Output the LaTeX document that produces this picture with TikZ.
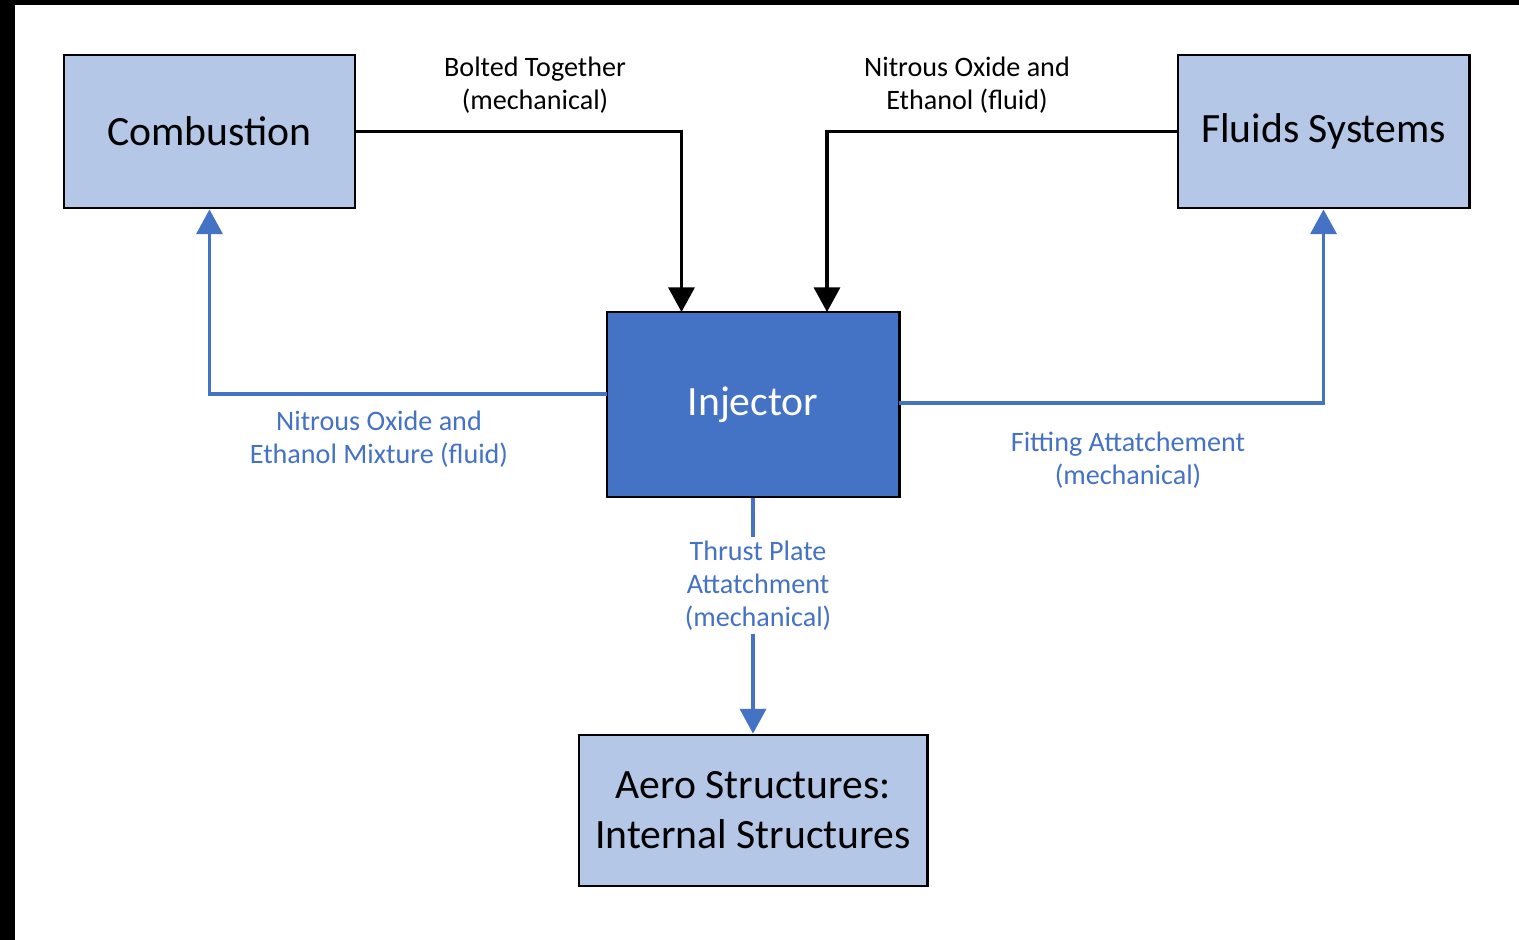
\documentclass[tikz,border=0pt]{standalone}
\usepackage{fontspec}
\setmainfont{Carlito}
\usetikzlibrary{arrows.meta}

\definecolor{paleblue}{HTML}{B4C7E7}
\definecolor{midblue}{HTML}{4472C4}

\tikzset{
	block/.style={draw=black, line width=0.8pt, fill=paleblue, align=center,
		inner sep=0pt, font=\fontsize{11.85}{14.2}\selectfont},
	flowline/.style={line width=0.9pt, -{Triangle[width=7.4pt,length=7pt]}},
	flowtext/.style={align=center, inner sep=1pt, font=\fontsize{8}{9.4}\selectfont}
}

\begin{document}
\begin{tikzpicture}[x=0.01cm,y=-0.01cm]

	%Frame
	\useasboundingbox (0,0) rectangle (1519,940);
	\fill[white] (0,0) rectangle (1519,940);
	\fill[black] (0,0) rectangle (1519,5);
	\fill[black] (0,0) rectangle (15,940);

	%Blocks
	\node[block, minimum width=2.91cm, minimum height=1.53cm] (comb) at (209.5,131.5) {Combustion};
	\node[block, minimum width=2.91cm, minimum height=1.53cm] (fluid) at (1323.5,131.5) {Fluids Systems};
	\node[block, fill=midblue, text=white, minimum width=2.92cm, minimum height=1.85cm] (inj) at (753,404.5) {\raisebox{-1pt}{Injector}};
	\node[block, minimum width=3.48cm, minimum height=1.51cm] (aero) at (753,810.5) {Aero Structures:\\Internal Structures};

	%Ports on the injector
	\coordinate (injA) at (681.5,312);
	\coordinate (injB) at (827,312);
	\coordinate (injL) at (607,394);
	\coordinate (injR) at (899,403);

	%Inputs
	\draw[flowline] (comb.east) -| (injA);
	\draw[flowline] (fluid.west) -| (injB);
	\node[flowtext] (boltlbl) at (535,85) {Bolted Together\\(mechanical)};
	\node[flowtext] (fuellbl) at (967,85) {Nitrous Oxide and\\Ethanol (fluid)};

	%Outputs
	\draw[flowline, midblue] (injL) -| (comb.south);
	\draw[flowline, midblue] (injR) -| (fluid.south);
	\draw[flowline, midblue] (inj.south) -- (aero.north)
		node[flowtext, pos=0.37, fill=white, text=midblue, xshift=0.05cm] (platelbl) {Thrust Plate\\Attatchment\\(mechanical)};
	\node[flowtext, text=midblue] (mixlbl) at (379,439) {Nitrous Oxide and\\Ethanol Mixture (fluid)};
	\node[flowtext, text=midblue] (fitlbl) at (1128,460) {Fitting Attatchement\\(mechanical)};

\end{tikzpicture}
\end{document}
